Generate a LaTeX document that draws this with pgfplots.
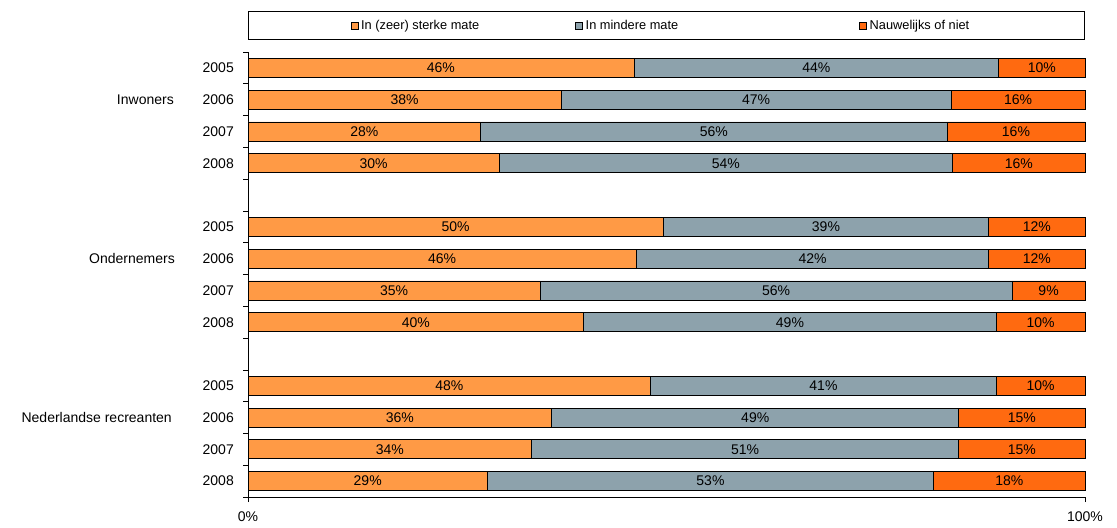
\documentclass[border=0pt]{standalone}
\usepackage{pgfplots}
\pgfplotsset{compat=1.18}
\usepackage{pgfplotstable}
\usepackage{fontspec}
\setmainfont{Liberation Sans}
\definecolor{c1}{HTML}{FF9A45}
\definecolor{c2}{HTML}{8DA2AC}
\definecolor{c3}{HTML}{FF6A10}
\pgfplotstableread{
y a b c la lb lc
1 46.1 43.6 10.3 46 44 10
2 37.4 46.6 16.0 38 47 16
3 27.8 55.7 16.5 28 56 16
4 30.0 54.2 15.8 30 54 16
6 49.6 38.9 11.5 50 39 12
7 46.4 42.1 11.5 46 42 12
8 34.9 56.4 8.7 35 56 9
9 40.1 49.3 10.6 40 49 10
11 48.1 41.3 10.6 48 41 10
12 36.3 48.6 15.1 36 49 15
13 33.9 51.0 15.1 34 51 15
14 28.6 53.3 18.1 29 53 18
}\data
\begin{document}
\begin{tikzpicture}
\useasboundingbox (0,0) rectangle (1117bp,528bp);
\begin{axis}[
  at={(248bp,31bp)}, anchor=south west,
  scale only axis, width=837bp, height=445bp,
  xbar stacked, bar width=19bp,
  xmin=0, xmax=100, ymin=0.5, ymax=14.5, y dir=reverse,
  clip=false,
  axis x line*=bottom, axis y line*=left,
  axis line style={-, black, line width=0.7pt},
  xtick={0,100}, xticklabels={0\%,100\%},
  ytick={0.5,1.5,...,14.5}, yticklabels={},
  extra y ticks={1,2,3,4,6,7,8,9,11,12,13,14},
  extra y tick labels={2005,2006,2007,2008,2005,2006,2007,2008,2005,2006,2007,2008},
  extra y tick style={major tick length=0pt},
  tick align=outside, major tick length=5bp,
  tick style={black, line width=0.7pt},
  ticklabel style={font=\fontsize{14bp}{16bp}\selectfont},
  y tick label style={inner sep=0pt, xshift=-14bp},
  x tick label style={yshift=-6bp},
  /pgf/number format/assume math mode=true,
  point meta=explicit,
  nodes near coords={\pgfmathprintnumber[fixed,precision=0]{\pgfplotspointmeta}\%},
  every node near coord/.append style={anchor=center, inner sep=0pt, black,
     font=\fontsize{14bp}{16bp}\selectfont},
  legend columns=3,
  legend style={at={(0.5,1)}, anchor=south, yshift=12bp, draw=black, line width=0.7pt,
     font=\fontsize{12.8bp}{15bp}\selectfont, inner xsep=102.5bp, inner ysep=8bp,
     nodes={inner xsep=0pt, inner ysep=1bp},
     /tikz/column 1/.style={column sep=3bp},
     /tikz/column 2/.style={column sep=96bp},
     /tikz/column 3/.style={column sep=3bp},
     /tikz/column 4/.style={column sep=181bp},
     /tikz/column 5/.style={column sep=3bp}},
  legend image code/.code={\draw[#1, draw=black, line width=0.5pt] (0bp,-3.5bp) rectangle (7bp,3.5bp);},
]
\addplot[fill=c1, draw=black, line width=0.7pt] table[x=a, y=y, meta=la]{\data};
\addplot[fill=c2, draw=black, line width=0.7pt] table[x=b, y=y, meta=lb]{\data};
\addplot[fill=c3, draw=black, line width=0.7pt] table[x=c, y=y, meta=lc]{\data};
\legend{In (zeer) sterke mate, In mindere mate, Nauwelijks of niet\rule{13bp}{0pt}}
\node[anchor=east, font=\fontsize{14bp}{16bp}\selectfont, inner sep=0pt] at (axis cs:0,2) [xshift=-74bp] {Inwoners};
\node[anchor=east, font=\fontsize{14bp}{16bp}\selectfont, inner sep=0pt] at (axis cs:0,7) [xshift=-73bp] {Ondernemers};
\node[anchor=east, font=\fontsize{14bp}{16bp}\selectfont, inner sep=0pt] at (axis cs:0,12) [xshift=-76bp] {Nederlandse recreanten};
\end{axis}
\end{tikzpicture}
\end{document}
